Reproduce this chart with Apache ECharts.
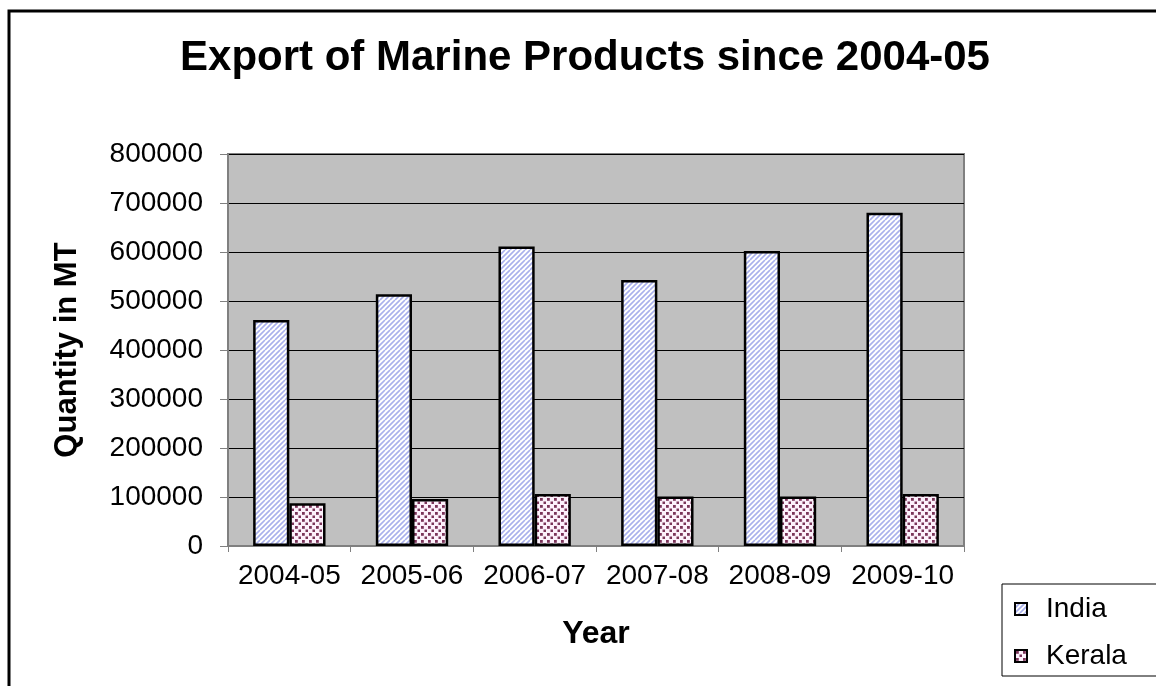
<!DOCTYPE html>
<html>
<head>
<meta charset="utf-8">
<script src="https://cdn.jsdelivr.net/npm/echarts@6/dist/echarts.min.js"></script>
<style>html,body{margin:0;padding:0;background:#fff}#c{width:1156px;height:686px}</style>
</head>
<body>
<div id="c"></div>
<script>
var categories = ['2004-05', '2005-06', '2006-07', '2007-08', '2008-09', '2009-10'];
var indiaValues = [461000, 514000, 611000, 543000, 602000, 680000];
var keralaValues = [87000, 96000, 106000, 101000, 101000, 106000];
var seriesNames = ['India', 'Kerala'];
var yTicks = { min: 0, max: 800000, interval: 100000 };

function stripePattern() {
  var n = 10;
  var c = document.createElement('canvas');
  c.width = n; c.height = n;
  var g = c.getContext('2d');
  g.fillStyle = '#ffffff'; g.fillRect(0, 0, n, n);
  g.strokeStyle = '#a9b0ec'; g.lineWidth = 1.6;
  g.beginPath();
  for (var k = 0; k <= 20; k += 5) { g.moveTo(k - 10, 10); g.lineTo(k, 0); g.moveTo(k, 10); g.lineTo(k + 10, 0); }
  g.stroke();
  return c;
}
function dotPattern() {
  var c = document.createElement('canvas');
  c.width = 7; c.height = 7;
  var g = c.getContext('2d');
  g.fillStyle = '#fcf0fb'; g.fillRect(0, 0, 7, 7);
  g.fillStyle = '#7a3459';
  g.fillRect(1, 1, 2.8, 2.8);
  g.fillRect(4.5, 4.5, 2.8, 2.8);
  return c;
}

var chart = echarts.init(document.getElementById('c'));
var font = 'Liberation Sans, Arial, sans-serif';
chart.setOption({
  backgroundColor: '#ffffff',
  animation: false,
  graphic: [{
    type: 'rect', silent: true, z: -1,
    shape: { x: 9, y: 11, width: 1300, height: 1000 },
    style: { fill: 'none', stroke: '#000', lineWidth: 3 }
  }],
  title: {
    text: 'Export of Marine Products since 2004-05',
    left: 585, textAlign: 'center', top: 37, padding: 0,
    textStyle: { fontFamily: font, fontSize: 42, fontWeight: 'bold', color: '#000' }
  },
  legend: {
    orient: 'vertical', left: 1002, top: 584,
    padding: [11, 40, 6, 12], itemGap: 19,
    itemWidth: 12, itemHeight: 12,
    borderColor: '#000', borderWidth: 1, backgroundColor: '#fff',
    icon: 'rect',
    textStyle: { fontFamily: font, fontSize: 28, color: '#000', padding: [0, 0, 0, 14] },
    data: seriesNames
  },
  grid: {
    left: 228, right: 192, top: 154, bottom: 140,
    show: true, backgroundColor: '#c0c0c0', borderColor: '#808080', borderWidth: 2
  },
  xAxis: {
    type: 'category', data: categories,
    name: 'Year', nameLocation: 'middle', nameGap: 72,
    nameTextStyle: { fontFamily: font, fontSize: 32, fontWeight: 'bold', color: '#000' },
    axisLine: { lineStyle: { color: '#808080', width: 2 } },
    axisTick: { show: true, length: 6, lineStyle: { color: '#808080', width: 1 } },
    axisLabel: { fontFamily: font, fontSize: 28, color: '#000', margin: 16, interval: 0 }
  },
  yAxis: {
    type: 'value', min: yTicks.min, max: yTicks.max, interval: yTicks.interval,
    name: 'Quantity in MT', nameLocation: 'middle', nameGap: 145, nameRotate: 90,
    nameTextStyle: { fontFamily: font, fontSize: 31, fontWeight: 'bold', color: '#000' },
    axisLine: { show: true, lineStyle: { color: '#808080', width: 2 } },
    axisTick: { show: true, length: 8, lineStyle: { color: '#808080', width: 1 } },
    axisLabel: { fontFamily: font, fontSize: 28, color: '#000', margin: 25, formatter: function (v) { return String(v); } },
    splitLine: { show: true, lineStyle: { color: '#000', width: 1 } }
  },
  series: [{
    name: seriesNames[0], type: 'bar', data: indiaValues,
    barGap: '0%', barCategoryGap: '41%',
    itemStyle: { color: { image: stripePattern(), repeat: 'repeat' }, borderColor: '#000', borderWidth: 2.5 }
  }, {
    name: seriesNames[1], type: 'bar', data: keralaValues,
    barGap: '0%', barCategoryGap: '41%',
    itemStyle: { color: { image: dotPattern(), repeat: 'repeat' }, borderColor: '#000', borderWidth: 2.5 }
  }]
});
</script>
</body>
</html>
